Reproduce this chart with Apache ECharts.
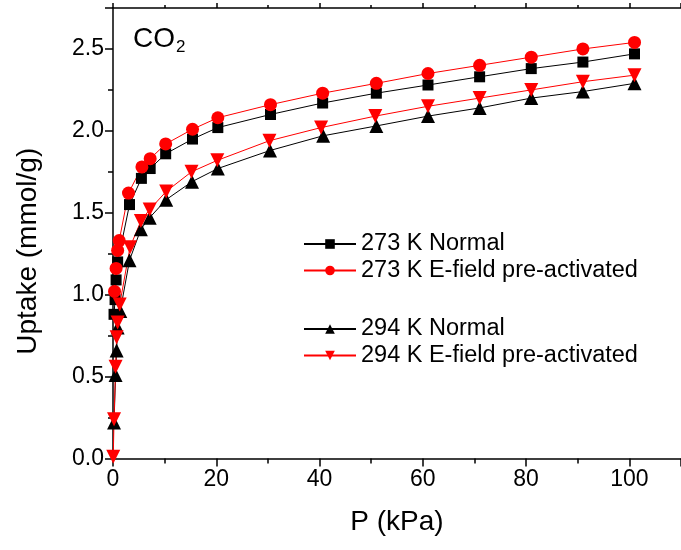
<!DOCTYPE html>
<html>
<head>
<meta charset="utf-8">
<script src="https://cdn.jsdelivr.net/npm/echarts@6/dist/echarts.min.js"></script>
<style>
  html, body { margin: 0; padding: 0; background: #fff; }
  #chart { width: 681px; height: 550px; }
</style>
</head>
<body>
<div id="chart"></div>
<script>
// CO2 adsorption isotherms: pressure (kPa) vs uptake (mmol/g)
const p273Normal = [0.2, 0.4, 0.6, 0.9, 3.2, 5.5, 7.2, 10.2, 15.4, 20.3, 30.5, 40.6, 51, 61, 71, 81, 91, 101];
const u273Normal = [0.88, 0.97, 1.09, 1.20, 1.55, 1.71, 1.77, 1.86, 1.95, 2.02, 2.10, 2.17, 2.23, 2.28, 2.33, 2.38, 2.42, 2.47];

const p273Efield = [0.3, 0.6, 0.9, 1.2, 3.0, 5.6, 7.2, 10.2, 15.4, 20.3, 30.5, 40.6, 51, 61, 71, 81, 91, 101];
const u273Efield = [1.02, 1.16, 1.27, 1.33, 1.62, 1.78, 1.83, 1.92, 2.01, 2.08, 2.16, 2.23, 2.29, 2.35, 2.40, 2.45, 2.50, 2.54];

const p294Normal = [0.2, 0.5, 0.7, 0.9, 1.4, 3.2, 5.4, 7.1, 10.3, 15.3, 20.3, 30.4, 40.7, 51, 61, 71, 81, 91, 101];
const u294Normal = [0.22, 0.51, 0.66, 0.80, 0.90, 1.21, 1.40, 1.47, 1.58, 1.69, 1.77, 1.88, 1.97, 2.03, 2.09, 2.14, 2.20, 2.24, 2.29];

const p294Efield = [0.05, 0.2, 0.5, 0.7, 0.9, 1.3, 3.3, 5.4, 7.1, 10.3, 15.2, 20.2, 30.3, 40.3, 50.8, 61, 71, 81, 91, 101];
const u294Efield = [0.01, 0.24, 0.56, 0.74, 0.83, 0.94, 1.29, 1.45, 1.52, 1.63, 1.75, 1.82, 1.94, 2.02, 2.09, 2.15, 2.20, 2.25, 2.30, 2.34];

const seriesNames = [
  '273 K Normal',
  '273 K E-field pre-activated',
  '294 K Normal',
  '294 K E-field pre-activated'
];

const pairs = (xs, ys) => xs.map((x, i) => [x, ys[i]]);

const FONT = 'Liberation Sans, Arial, sans-serif';
const BLACK = '#000000';
const RED = '#ff0000';

function makeSeries(name, xs, ys, color, symbol, size, rotate) {
  return {
    name: name,
    type: 'line',
    data: pairs(xs, ys),
    symbol: symbol,
    symbolSize: size,
    symbolRotate: rotate || 0,
    showAllSymbol: true,
    itemStyle: { color: color },
    lineStyle: { color: color, width: 1 },
    emphasis: { disabled: true },
    animation: false
  };
}

const chart = echarts.init(document.getElementById('chart'), null, { renderer: 'canvas' });

const tickLabel = { color: BLACK, fontFamily: FONT, fontSize: 23 };
const legendText = { color: BLACK, fontFamily: FONT, fontSize: 23.5 };

chart.setOption({
  backgroundColor: '#fff',
  animation: false,
  grid: { left: 113, top: 8, width: 573, height: 450.5, containLabel: false },
  xAxis: [{
    type: 'value',
    min: 0, max: 110, interval: 20,
    position: 'bottom',
    name: 'P (kPa)',
    nameLocation: 'middle',
    nameGap: 50,
    nameTextStyle: { color: BLACK, fontFamily: FONT, fontSize: 28 },
    axisLine: { show: true, onZero: false, lineStyle: { color: BLACK, width: 1.5 } },
    axisTick: { show: true, inside: false, length: 8, lineStyle: { color: BLACK, width: 1.5 } },
    minorTick: { show: true, splitNumber: 2, length: 5, lineStyle: { color: BLACK, width: 1.5 } },
    axisLabel: { ...tickLabel, margin: 10, showMaxLabel: false },
    splitLine: { show: false }
  }, {
    type: 'value',
    min: 0, max: 110, interval: 20,
    position: 'top',
    axisLine: { show: true, onZero: false, lineStyle: { color: BLACK, width: 1.5 } },
    axisTick: { show: true, inside: false, length: 5, lineStyle: { color: BLACK, width: 1.5 } },
    minorTick: { show: true, splitNumber: 2, length: 3, lineStyle: { color: BLACK, width: 1.5 } },
    axisLabel: { show: false },
    splitLine: { show: false }
  }],
  yAxis: {
    type: 'value',
    min: 0, max: 2.75, interval: 0.5,
    name: 'Uptake (mmol/g)',
    nameLocation: 'middle',
    nameGap: 71,
    nameTextStyle: { color: BLACK, fontFamily: FONT, fontSize: 28, padding: [0, 36, 0, 0] },
    axisLine: { show: true, onZero: false, lineStyle: { color: BLACK, width: 1.5 } },
    axisTick: { show: true, inside: false, length: 8, lineStyle: { color: BLACK, width: 1.5 } },
    minorTick: { show: true, splitNumber: 2, length: 5, lineStyle: { color: BLACK, width: 1.5 } },
    axisLabel: { ...tickLabel, margin: 9, showMaxLabel: false, formatter: v => v.toFixed(1) },
    splitLine: { show: false }
  },
  legend: [{
    data: [seriesNames[0], seriesNames[1]],
    orient: 'vertical',
    left: 298, top: 227,
    itemWidth: 52, itemHeight: 12, itemGap: 2.5,
    textStyle: legendText,
    selectedMode: false
  }, {
    data: [seriesNames[2], seriesNames[3]],
    orient: 'vertical',
    left: 298, top: 312,
    itemWidth: 52, itemHeight: 12, itemGap: 2.5,
    textStyle: legendText,
    selectedMode: false
  }],
  graphic: [{
    type: 'text',
    left: 133, top: 25,
    style: {
      text: '{a|CO}{b|2}',
      rich: {
        a: { fontFamily: FONT, fontSize: 28, fill: BLACK },
        b: { fontFamily: FONT, fontSize: 17, fill: BLACK, padding: [16, 0, 0, 1] }
      }
    }
  }],
  series: [
    makeSeries(seriesNames[0], p273Normal, u273Normal, BLACK, 'rect', 11),
    makeSeries(seriesNames[1], p273Efield, u273Efield, RED, 'circle', 13),
    makeSeries(seriesNames[2], p294Normal, u294Normal, BLACK, 'triangle', 14),
    makeSeries(seriesNames[3], p294Efield, u294Efield, RED, 'triangle', 14, 180)
  ]
});
</script>
</body>
</html>
